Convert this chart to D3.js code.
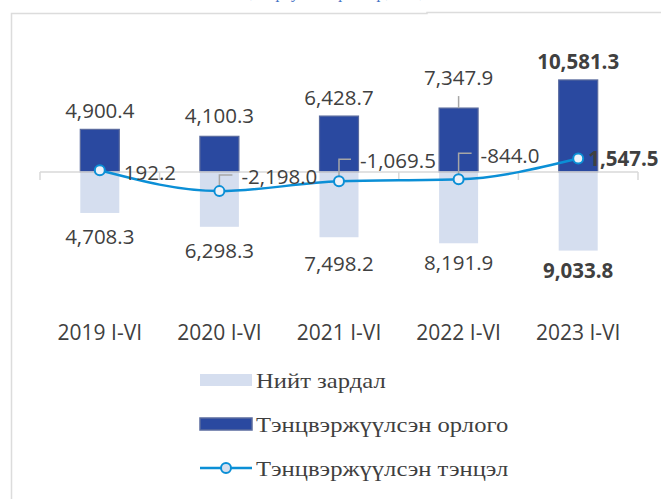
<!DOCTYPE html>
<html>
<head>
<meta charset="utf-8">
<script src="https://cdn.jsdelivr.net/npm/d3@7"></script>
<style>
  body { margin: 0; background: #fff; }
  svg { display: block; }
</style>
</head>
<body>
<script>
// Categories and series values
var categories = ["2019 I-VI", "2020 I-VI", "2021 I-VI", "2022 I-VI", "2023 I-VI"];
var expenses = [4708.3, 6298.3, 7498.2, 8191.9, 9033.8];      // Нийт зардал
var revenues = [4900.4, 4100.3, 6428.7, 7347.9, 10581.3];     // Тэнцвэржүүлсэн орлого
var balances = [192.2, -2198.0, -1069.5, -844.0, 1547.5];     // Тэнцвэржүүлсэн тэнцэл
var seriesNames = ["Нийт зардал", "Тэнцвэржүүлсэн орлого", "Тэнцвэржүүлсэн тэнцэл"];

var W = 661, H = 499;
var darkBlue = "#2a49a0", lightBlue = "#d5deef", lineBlue = "#0b8fd6",
    textGray = "#404040", gridGray = "#d9d9d9", leaderGray = "#a6a6a6";

// plain hyphen for negatives, like the original
var fmt = d3.formatLocale({decimal: ".", thousands: ",", grouping: [3], currency: ["", ""], minus: "-"})
            .format(",.1f");

var svg = d3.select("body").append("svg")
            .attr("width", W)
            .attr("height", H);

// clipped caption at the very top (only its lowest strokes show)
svg.append("text")
   .attr("x", 250)
   .attr("y", -2)
   .style("font-family", "Liberation Serif")
   .style("font-style", "italic")
   .style("font-size", "16px")
   .style("fill", "#4472c4")
   .text(", тэрбум төгрөгөөр, I-VI,");

// frame
svg.append("path")
   .attr("d", "M11.5,499 V13.5 H427 V12.5 H661")
   .style("fill", "none")
   .style("stroke", "#dcdcdc")
   .style("stroke-width", 1.5);

// scales
var xScale = d3.scaleBand().domain(categories).range([40, 638]);
var yScale = d3.scaleLinear().domain([-10000, 12000]).range([259, 67.6]);
var barW = 39;
var y0 = yScale(0);
var cx = d => xScale(d) + xScale.bandwidth() / 2;

// expense bars (negative side)
svg.selectAll(".exp")
   .data(categories)
   .enter().append("rect")
   .attr("class", "exp")
   .attr("x", d => cx(d) - barW / 2)
   .attr("y", y0)
   .attr("width", barW)
   .attr("height", (d, i) => yScale(-expenses[i]) - y0)
   .style("fill", lightBlue);

// revenue bars
svg.selectAll(".rev")
   .data(categories)
   .enter().append("rect")
   .attr("class", "rev")
   .attr("x", d => cx(d) - barW / 2)
   .attr("y", (d, i) => yScale(revenues[i]))
   .attr("width", barW)
   .attr("height", (d, i) => y0 - yScale(revenues[i]))
   .style("fill", darkBlue)
   .style("stroke", "#5a6b9e")
   .style("stroke-width", 1.2);

// category axis with boundary ticks
var axis = svg.append("g");
axis.append("line")
    .attr("x1", 40).attr("x2", 638)
    .attr("y1", y0).attr("y2", y0)
    .style("stroke", gridGray)
    .style("stroke-width", 1.5);
var bounds = categories.map(d => xScale(d)).concat([xScale.range()[1]]);
axis.selectAll(".tk")
    .data(bounds)
    .enter().append("line")
    .attr("x1", d => d).attr("x2", d => d)
    .attr("y1", y0).attr("y2", y0 + 8)
    .style("stroke", gridGray)
    .style("stroke-width", 1.5);

axis.selectAll(".cat")
    .data(categories)
    .enter().append("text")
    .attr("x", d => cx(d))
    .attr("y", 333)
    .attr("dy", "0.35em")
    .attr("text-anchor", "middle")
    .style("font-family", "Open Sans")
    .style("font-size", "21px")
    .style("fill", textGray)
    .text(d => d);

// balance line
var line = d3.line()
    .x((d, i) => cx(categories[i]))
    .y(d => yScale(d))
    .curve(d3.curveMonotoneX);

svg.append("path")
   .datum(balances)
   .attr("d", line)
   .style("fill", "none")
   .style("stroke", lineBlue)
   .style("stroke-width", 2.5);

// leader lines
var leaderG = svg.append("g")
    .style("fill", "none")
    .style("stroke", leaderGray)
    .style("stroke-width", 1.5);

// balance labels: offsets from the marker
var balDx = [24, 22, 21, 22, 10],
    balDy = [2, -14, -20, -24, 0],
    balLeader = [false, true, true, true, false];

balances.forEach((v, i) => {
  if (!balLeader[i]) return;
  var x = cx(categories[i]), y = yScale(v);
  leaderG.append("path")
         .attr("d", "M" + x + "," + (y - 5) + " V" + (y + balDy[i] - 2) + " H" + (x + balDx[i] - 9));
});

// revenue label offsets (label centre above bar top)
var revDy = [-19, -21, -18, -30, -18];
leaderG.append("path")
       .attr("d", "M" + cx(categories[3]) + "," + (yScale(revenues[3]) - 12) + " V" + yScale(revenues[3]));

svg.selectAll(".mk")
   .data(balances)
   .enter().append("circle")
   .attr("cx", (d, i) => cx(categories[i]))
   .attr("cy", d => yScale(d))
   .attr("r", 5)
   .style("fill", "#eef2f9")
   .style("stroke", lineBlue)
   .style("stroke-width", 2);

var labelStyle = sel => sel
    .style("font-family", "Open Sans")
    .style("font-size", "20.5px")
    .style("fill", textGray)
    .style("font-weight", (d, i) => i === 4 ? "bold" : "normal");

svg.selectAll(".revLab")
   .data(revenues)
   .enter().append("text")
   .attr("x", (d, i) => cx(categories[i]))
   .attr("y", (d, i) => yScale(d) + revDy[i])
   .attr("dy", "0.35em")
   .attr("text-anchor", "middle")
   .call(labelStyle)
   .text(d => fmt(d));

var expDy = [24, 24, 27, 20, 20];
svg.selectAll(".expLab")
   .data(expenses)
   .enter().append("text")
   .attr("x", (d, i) => cx(categories[i]))
   .attr("y", (d, i) => yScale(-d) + expDy[i])
   .attr("dy", "0.35em")
   .attr("text-anchor", "middle")
   .call(labelStyle)
   .text(d => fmt(d));

svg.selectAll(".balLab")
   .data(balances)
   .enter().append("text")
   .attr("x", (d, i) => cx(categories[i]) + balDx[i])
   .attr("y", (d, i) => yScale(d) + balDy[i])
   .attr("dy", "0.35em")
   .call(labelStyle)
   .text(d => fmt(d));

// legend
var legend = svg.append("g").attr("transform", "translate(200,0)");
var rowY = [380, 424, 468];

legend.append("rect")
      .attr("x", 0).attr("y", rowY[0] - 6)
      .attr("width", 52).attr("height", 12)
      .style("fill", lightBlue);
legend.append("rect")
      .attr("x", 0).attr("y", rowY[1] - 6)
      .attr("width", 52).attr("height", 12)
      .style("fill", darkBlue)
      .style("stroke", "#5a6b9e")
      .style("stroke-width", 1.5);
legend.append("line")
      .attr("x1", 0).attr("x2", 52)
      .attr("y1", rowY[2]).attr("y2", rowY[2])
      .style("stroke", lineBlue)
      .style("stroke-width", 2.5);
legend.append("circle")
      .attr("cx", 26).attr("cy", rowY[2]).attr("r", 5)
      .style("fill", "#d6dfee")
      .style("stroke", lineBlue)
      .style("stroke-width", 2);

// the original legend font is drawn a little wide
legend.selectAll(".lt")
      .data(seriesNames)
      .enter().append("text")
      .attr("transform", (d, i) => "translate(56," + rowY[i] + ") scale(1.12,1)")
      .attr("dy", "0.35em")
      .style("font-family", "Liberation Serif")
      .style("font-size", "22px")
      .style("fill", "#3f3f3f")
      .text(d => d);
</script>
</body>
</html>
